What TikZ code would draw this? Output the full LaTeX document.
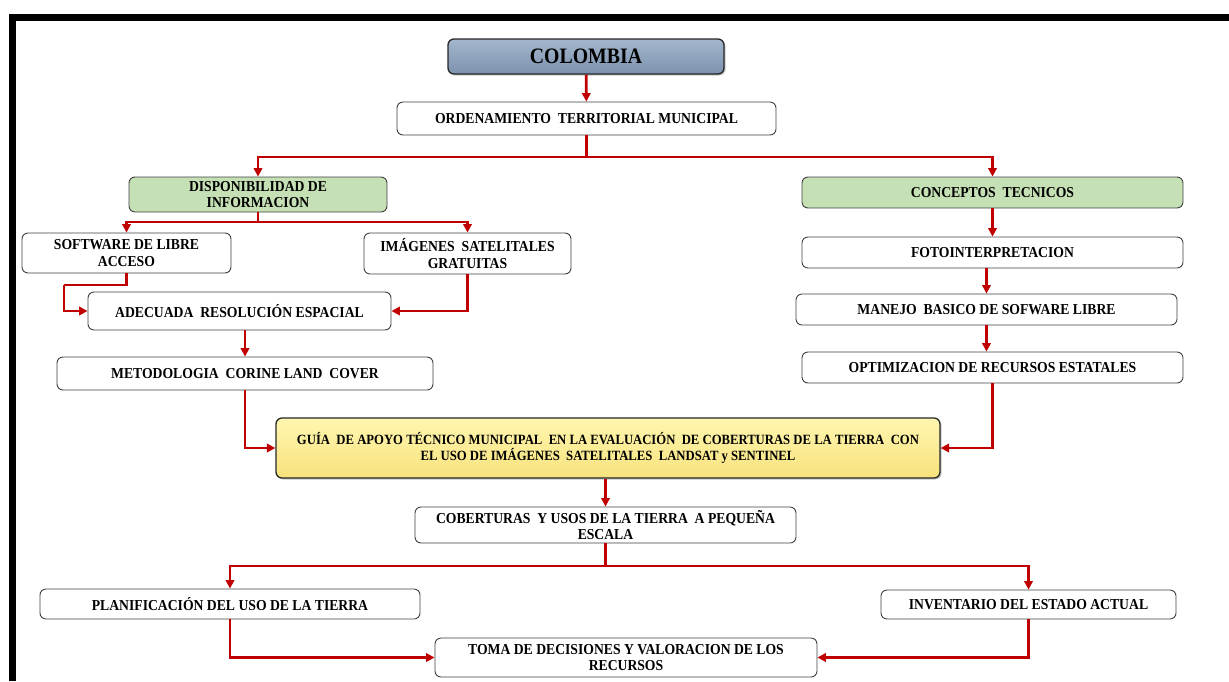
\documentclass[tikz,border=0pt]{standalone}
\usepackage{fontspec}
\setmainfont{Liberation Serif}[FakeStretch=0.9]
\usetikzlibrary{arrows.meta,shadows}
\definecolor{conred}{HTML}{C00000}
\definecolor{boxline}{HTML}{404040}
\definecolor{greenfill}{HTML}{C5E0B4}
\definecolor{bluetop}{HTML}{A3B6CC}
\definecolor{bluebot}{HTML}{7C92AE}
\definecolor{yeltop}{HTML}{FFF6B0}
\definecolor{yelbot}{HTML}{F7E27C}
\tikzset{
  base/.style={draw=boxline, line width=0.9pt, rounded corners=6pt, align=center, inner sep=2pt,
    font=\fontsize{15.2}{16.5}\selectfont\bfseries},
  wbox/.style={base, fill=white},
  gbox/.style={base, fill=greenfill},
  topbox/.style={base, draw=black!85, line width=1.3pt, top color=bluetop, bottom color=bluebot,
    font=\fontsize{22}{24}\selectfont\bfseries,
    drop shadow={shadow xshift=1.5pt, shadow yshift=-1.5pt, opacity=0.45}},
  guiabox/.style={base, draw=black!85, line width=1.3pt, top color=yeltop, bottom color=yelbot,
    font=\fontsize{14.1}{16}\selectfont\bfseries,
    drop shadow={shadow xshift=1.5pt, shadow yshift=-1.5pt, opacity=0.45}},
  conn/.style={draw=conred, line width=2.8pt, -{Triangle[length=8.5pt,width=8.5pt]}},
  plain/.style={draw=conred, line width=2.8pt},
}
\begin{document}
\begin{tikzpicture}[x=1pt,y=-1pt]
\useasboundingbox (0,0) rectangle (1229,681);
% frame
\fill[black] (9,14) rectangle (1229,21);
\fill[black] (9,14) rectangle (16,681);

% nodes
\node[topbox, minimum width=276pt, minimum height=35pt] (col) at (586,56.5) {COLOMBIA};
\node[wbox, minimum width=379pt, minimum height=33pt] (ord) at (586.5,118.5) {ORDENAMIENTO\ \ TERRITORIAL MUNICIPAL};
\node[gbox, minimum width=258pt, minimum height=35pt] (disp) at (258,194.5) {DISPONIBILIDAD DE\\INFORMACION};
\node[gbox, minimum width=381pt, minimum height=31pt] (conc) at (992.5,192.5) {CONCEPTOS\ \ TECNICOS};
\node[wbox, minimum width=209pt, minimum height=40pt] (soft) at (126.5,253) {SOFTWARE DE LIBRE\\ACCESO};
\node[wbox, minimum width=207pt, minimum height=41pt] (imag) at (467.5,253.5) {IMÁGENES\ \ SATELITALES\\GRATUITAS};
\node[wbox, minimum width=303pt, minimum height=38pt] (adec) at (239.5,311) {ADECUADA\ \ RESOLUCIÓN ESPACIAL};
\node[wbox, minimum width=376pt, minimum height=33pt] (meto) at (245,373.5) {METODOLOGIA\ \ CORINE LAND\ \ COVER};
\node[wbox, minimum width=381pt, minimum height=31pt] (foto) at (992.5,252.5) {FOTOINTERPRETACION};
\node[wbox, minimum width=381pt, minimum height=31pt] (man) at (986.5,309.5) {MANEJO\ \ BASICO DE SOFWARE LIBRE};
\node[wbox, minimum width=381pt, minimum height=31pt] (opt) at (992.5,367.5) {OPTIMIZACION DE RECURSOS ESTATALES};
\node[guiabox, minimum width=664pt, minimum height=60pt] (guia) at (608,448) {GUÍA\ \ DE APOYO TÉCNICO MUNICIPAL\ \ EN LA EVALUACIÓN\ \ DE COBERTURAS DE LA TIERRA\ \ CON\\EL USO DE IMÁGENES\ \ SATELITALES\ \ LANDSAT y SENTINEL};
\node[wbox, minimum width=381pt, minimum height=36pt] (cob) at (605.5,525) {COBERTURAS\ \ Y USOS DE LA TIERRA\ \ A PEQUEÑA\\ESCALA};
\node[wbox, minimum width=380pt, minimum height=30pt] (plan) at (230,604) {PLANIFICACIÓN DEL USO DE LA TIERRA};
\node[wbox, minimum width=295pt, minimum height=29pt] (inv) at (1028.5,604.5) {INVENTARIO DEL ESTADO ACTUAL};
\node[wbox, minimum width=382pt, minimum height=39pt] (toma) at (626,657.5) {TOMA DE DECISIONES Y VALORACION DE LOS\\RECURSOS};

% junction coordinates
\coordinate (j1) at (586.5,157);
\coordinate (j2) at (258,222);
\coordinate (s1) at (64,285);
\coordinate (j3) at (605.5,566);

% connectors
\draw[conn] (col) -- (ord);
\draw[plain] (ord.south) -- (j1);
\draw[conn] (j1) -| (disp.north);
\draw[conn] (j1) -| (conc.north);
\draw[plain] (disp.south) -- (j2);
\draw[conn] (j2) -| (soft.north);
\draw[conn] (j2) -| (imag.north);
\draw[plain] (soft.south) |- (s1);
\draw[conn] (s1) |- (adec.west);
\draw[conn] (imag.south) |- (adec.east);
\draw[conn] (meto.north |- adec.south) -- (meto.north);
\draw[conn] (meto.south) |- (guia.west);
\draw[conn] (conc) -- (foto);
\draw[conn] (man.north |- foto.south) -- (man.north);
\draw[conn] (man.south) -- (man.south |- opt.north);
\draw[conn] (opt.south) |- (guia.east);
\draw[conn] (cob.north |- guia.south) -- (cob.north);
\draw[plain] (cob.south) -- (j3);
\draw[conn] (j3) -| (plan.north);
\draw[conn] (j3) -| (inv.north);
\draw[conn] (plan.south) |- (toma.west);
\draw[conn] (inv.south) |- (toma.east);
\end{tikzpicture}
\end{document}
